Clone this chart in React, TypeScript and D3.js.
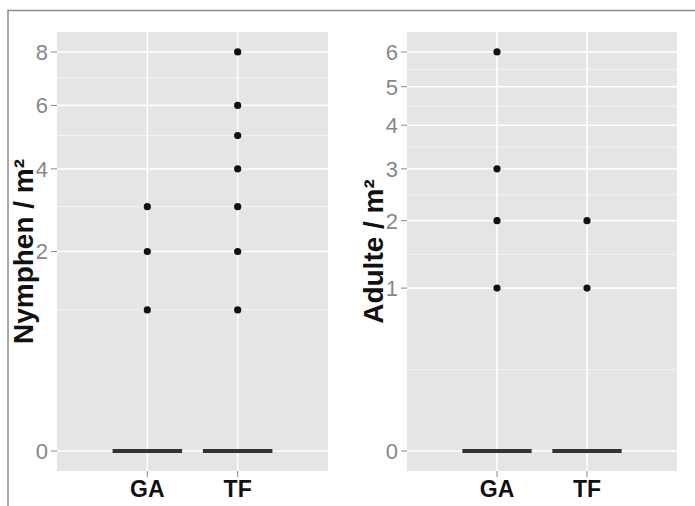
import React from "react";
import * as d3 from "d3";

// Sample densities per plot (individuals / m²)
const categories = ["GA", "TF"];

const nymphsGA = [0, 0, 0, 0, 0, 0, 0, 0, 0, 0, 0, 0, 0, 0, 0, 0, 0, 0, 0, 0, 1, 2, 2, 3];
const nymphsTF = [0, 0, 0, 0, 0, 0, 0, 0, 0, 0, 0, 0, 0, 0, 0, 0, 0, 0, 0, 0, 0, 0, 0, 0, 0, 0, 0, 0, 1, 2, 2, 3, 4, 5, 6, 8];
const adultsGA = [0, 0, 0, 0, 0, 0, 0, 0, 0, 0, 0, 0, 0, 0, 0, 0, 0, 0, 0, 0, 1, 1, 2, 2, 3, 6];
const adultsTF = [0, 0, 0, 0, 0, 0, 0, 0, 0, 0, 0, 0, 0, 0, 0, 0, 1, 2];

const nymphTicks = [0, 2, 4, 6, 8];
const nymphMinor = [1, 3, 5, 7];
const adultTicks = [0, 1, 2, 3, 4, 5, 6];

const FONT = "'Liberation Sans', Arial, Helvetica, sans-serif";

type PanelProps = {
  left: number;
  right: number;
  top: number;
  bottom: number;
  title: string;
  titleX: number;
  groups: number[][];
  ticks: number[];
  minor?: number[];
  maxVal: number;
};

function boxStats(values: number[]) {
  const s = values.slice().sort(d3.ascending);
  const q1 = d3.quantile(s, 0.25) ?? 0;
  const med = d3.quantile(s, 0.5) ?? 0;
  const q3 = d3.quantile(s, 0.75) ?? 0;
  const iqr = q3 - q1;
  const lo = q1 - 1.5 * iqr;
  const hi = q3 + 1.5 * iqr;
  const inside = s.filter((v) => v >= lo && v <= hi);
  const outliers = Array.from(new Set(s.filter((v) => v < lo || v > hi)));
  return { q1, med, q3, wlo: d3.min(inside) ?? q1, whi: d3.max(inside) ?? q3, outliers };
}

function Panel(p: PanelProps) {
  const s = Math.sqrt(p.maxVal);
  const ySq = d3
    .scaleLinear()
    .domain([-0.05 * s, 1.05 * s])
    .range([p.bottom, p.top]);
  const y = (v: number) => ySq(Math.sqrt(v));
  const x = d3.scaleLinear().domain([0, 3]).range([p.left, p.right]);

  // minor breaks: midpoints between majors on the sqrt scale unless given
  const minor =
    p.minor ??
    d3.pairs(p.ticks).map(([a, b]) => Math.pow((Math.sqrt(a) + Math.sqrt(b)) / 2, 2));

  const boxW = x(0.77) - x(0);
  const midY = (p.top + p.bottom) / 2;

  return (
    <g>
      <rect x={p.left} y={p.top} width={p.right - p.left} height={p.bottom - p.top} fill="#E5E5E5" />
      {minor.map((v) => (
        <line key={"mi" + v} x1={p.left} x2={p.right} y1={y(v)} y2={y(v)} stroke="#F4F4F4" strokeWidth={1} />
      ))}
      {p.ticks.map((v) => (
        <line key={"ma" + v} x1={p.left} x2={p.right} y1={y(v)} y2={y(v)} stroke="#FFFFFF" strokeWidth={1.6} />
      ))}
      {categories.map((c, i) => (
        <line key={"v" + c} x1={x(i + 1)} x2={x(i + 1)} y1={p.top} y2={p.bottom} stroke="#FFFFFF" strokeWidth={1.6} />
      ))}

      {p.groups.map((g, i) => {
        const st = boxStats(g);
        const cx = x(i + 1);
        return (
          <g key={"b" + i}>
            <line x1={cx} x2={cx} y1={y(st.whi)} y2={y(st.q3)} stroke="#333333" strokeWidth={1} />
            <line x1={cx} x2={cx} y1={y(st.q1)} y2={y(st.wlo)} stroke="#333333" strokeWidth={1} />
            <rect
              x={cx - boxW / 2}
              y={y(st.q3)}
              width={boxW}
              height={Math.max(0, y(st.q1) - y(st.q3))}
              fill="#FFFFFF"
              stroke="#333333"
              strokeWidth={1}
            />
            <line x1={cx - boxW / 2} x2={cx + boxW / 2} y1={y(st.med)} y2={y(st.med)} stroke="#333333" strokeWidth={4} />
            {st.outliers.map((v) => (
              <circle key={v} cx={cx} cy={y(v)} r={3.6} fill="#111111" />
            ))}
          </g>
        );
      })}

      {p.ticks.map((v) => (
        <g key={"t" + v}>
          <line x1={p.left - 6} x2={p.left} y1={y(v)} y2={y(v)} stroke="#8A8A8A" strokeWidth={1} />
          <text
            x={p.left - 9}
            y={y(v)}
            dy="0.36em"
            textAnchor="end"
            fontFamily={FONT}
            fontSize={22}
            fill="#878787"
          >
            {v}
          </text>
        </g>
      ))}
      {categories.map((c, i) => (
        <g key={"x" + c}>
          <line x1={x(i + 1)} x2={x(i + 1)} y1={p.bottom} y2={p.bottom + 6} stroke="#8A8A8A" strokeWidth={1} />
          <text
            x={x(i + 1)}
            y={497}
            textAnchor="middle"
            fontFamily={FONT}
            fontSize={23}
            fontWeight="bold"
            fill="#111111"
          >
            {c}
          </text>
        </g>
      ))}
      <text
        transform={`translate(${p.titleX},${midY}) rotate(-90)`}
        textAnchor="middle"
        fontFamily={FONT}
        fontSize={28}
        fontWeight="bold"
        fill="#111111"
      >
        {p.title}
      </text>
    </g>
  );
}

export default function App() {
  return (
    <div style={{ position: "absolute", left: 0, top: 0 }}>
      <svg width={695} height={506} style={{ display: "block", background: "#FFFFFF" }}>
        <path d="M8,506 V10.5 H695" fill="none" stroke="#8C8C8C" strokeWidth={1.5} />
        <Panel
          left={57}
          right={328}
          top={32}
          bottom={471}
          title="Nymphen / m²"
          titleX={33}
          groups={[nymphsGA, nymphsTF]}
          ticks={nymphTicks}
          minor={nymphMinor}
          maxVal={8}
        />
        <Panel
          left={407}
          right={677}
          top={32}
          bottom={471}
          title="Adulte / m²"
          titleX={383}
          groups={[adultsGA, adultsTF]}
          ticks={adultTicks}
          maxVal={6}
        />
      </svg>
    </div>
  );
}
